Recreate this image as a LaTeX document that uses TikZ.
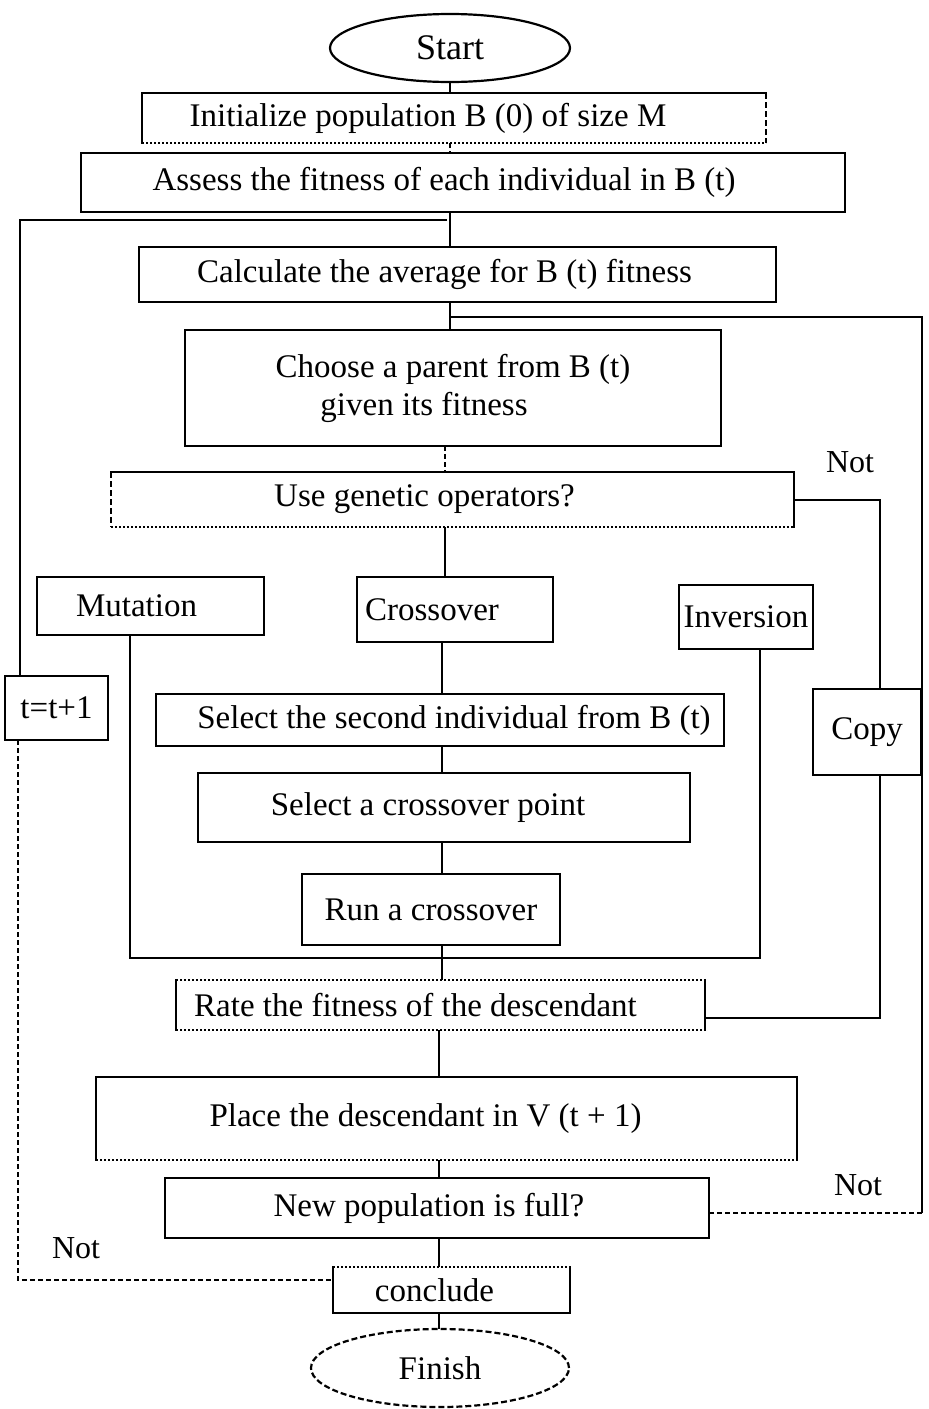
\documentclass[tikz,border=0pt]{standalone}
\usepackage{fontspec}
\setmainfont{Liberation Serif}
\usetikzlibrary{shapes.geometric}
% shift a one-line label sideways inside its box
\newcommand{\padright}[2]{\hbox{#2\kern#1pt}}
\newcommand{\padleft}[2]{\hbox{\kern#1pt#2}}

\begin{document}
\begin{tikzpicture}[x=1pt,y=-1pt,
  every node/.style={font=\fontsize{33}{38}\selectfont, inner sep=0pt, outer sep=0pt},
  box/.style={draw, rectangle, line width=2.8pt},
  bare/.style={rectangle},
  oval/.style={draw, ellipse, line width=2.2pt},
  link/.style={line width=2.4pt},
  faint/.style={line width=1.5pt, dash pattern=on 5pt off 3pt},
  side/.style={line width=2.8pt, line cap=rect},
  thinside/.style={line width=1.8pt, line cap=rect},
  dashside/.style={line width=1.7pt, dash pattern=on 6pt off 3pt},
  dotside/.style={line width=1.8pt, dash pattern=on 2pt off 2pt},
  lbl/.style={font=\fontsize{32}{36}\selectfont}
]
\useasboundingbox (0,0) rectangle (929,1409);

% terminals
\node[oval, minimum width=240, minimum height=68] (start) at (450,48) {\fontsize{36}{40}\selectfont Start};
\node[oval, dash pattern=on 6pt off 3pt, minimum width=258, minimum height=78] (finish) at (440,1368) {Finish};

% main column
\node[bare, minimum width=624, minimum height=50] (init) at (454,118) {\padright{52}{Initialize population B (0) of size M}};
\node[box, minimum width=764, minimum height=59] (assess) at (463,182.5) {\padright{38}{Assess the fitness of each individual in B (t)}};
\node[box, minimum width=637, minimum height=55] (calc) at (457.5,274.5) {\padright{26}{Calculate the average for B (t) fitness}};
\node[box, minimum width=536, minimum height=116, align=center] (choose) at (453,388) {Choose a parent from B (t)\\\padright{58}{given its fitness}};
\node[bare, minimum width=683, minimum height=55] (usegen) at (452.5,499.5) {\padright{56}{Use genetic operators?}};

% operators
\node[box, minimum width=227, minimum height=58] (mutation) at (150.5,606) {\padright{28}{Mutation}};
\node[box, minimum width=196, minimum height=65] (crossover) at (455,609.5) {\padright{46}{Crossover}};
\node[box, minimum width=134, minimum height=64] (inversion) at (746,617) {Inversion};
\node[box, minimum width=103, minimum height=64] (tinc) at (56.5,708) {t=t+1};
\node[box, minimum width=108, minimum height=86] (copy) at (867,732) {Copy};

% crossover steps
\node[box, minimum width=568, minimum height=52] (second) at (440,720) {\padleft{28}{Select the second individual from B (t)}};
\node[box, minimum width=492, minimum height=69] (point) at (444,807.5) {\padright{32}{Select a crossover point}};
\node[box, minimum width=258, minimum height=71] (run) at (431,909.5) {Run a crossover};

% evaluation and replacement
\node[bare, minimum width=529, minimum height=50] (rate) at (440.5,1005) {\padright{50}{Rate the fitness of the descendant}};
\node[bare, minimum width=701, minimum height=83] (place) at (446.5,1118.5) {\padright{42}{Place the descendant in V (t + 1)}};
\node[box, minimum width=544, minimum height=60] (newpop) at (437,1208) {\padright{16}{New population is full?}};
\node[bare, minimum width=237, minimum height=46] (conclude) at (451.5,1290) {\padright{34}{conclude}};

% branch labels
\node[lbl] (notA) at (850,462) {Not};
\node[lbl] (notB) at (858,1185) {Not};
\node[lbl] (notC) at (76,1248) {Not};

% borders with mixed line styles
\draw[thinside] (init.south west) -- (init.north west) -- (init.north east);
\draw[dashside] (init.north east) -- (init.south east);
\draw[dotside] (init.south west) -- (init.south east);

\draw[side] (usegen.north west) -- (usegen.north east) -- (usegen.south east);
\draw[dashside] (usegen.north west) -- (usegen.south west);
\draw[dotside] (usegen.south west) -- (usegen.south east);

\draw[side] (rate.north west) -- (rate.south west);
\draw[side] (rate.north east) -- (rate.south east);
\draw[dotside] (rate.north west) -- (rate.north east);
\draw[dotside] (rate.south west) -- (rate.south east);

\draw[side] (place.south west) -- (place.north west) -- (place.north east) -- (place.south east);
\draw[dotside] (place.south west) -- (place.south east);

\draw[side] (conclude.north west) -- (conclude.south west) -- (conclude.south east) -- (conclude.north east);
\draw[dotside] (conclude.north west) -- (conclude.north east);

% routing points
\coordinate (spA) at (450,0);
\coordinate (spB) at (445,0);
\coordinate (spC) at (442,0);
\coordinate (spD) at (439,0);
\coordinate (jl) at (447,220);
\coordinate (lt) at (20,220);
\coordinate (lb) at (18,1280);
\coordinate (jr) at (450,317);
\coordinate (rt) at (922,317);
\coordinate (rb) at (922,1213);
\coordinate (nr) at (880,500);
\coordinate (cb) at (880,1018);
\coordinate (ml) at (130,958);
\coordinate (ir) at (760,958);

% main flow
\draw[link] (start.south -| spA) -- (init.north -| spA);
\draw[faint] (init.south -| spA) -- (assess.north -| spA);
\draw[link] (assess.south -| spA) -- (calc.north -| spA);
\draw[link] (calc.south -| spA) -- (choose.north -| spA);
\draw[faint] (choose.south -| spB) -- (usegen.north -| spB);
\draw[link] (usegen.south -| spB) -- (crossover.north -| spB);
\draw[link] (crossover.south -| spC) -- (second.north -| spC);
\draw[link] (second.south -| spC) -- (point.north -| spC);
\draw[link] (point.south -| spC) -- (run.north -| spC);
\draw[link] (run.south -| spC) -- (rate.north -| spC);
\draw[link] (rate.south -| spD) -- (place.north -| spD);
\draw[link] (place.south -| spD) -- (newpop.north -| spD);
\draw[link] (newpop.south -| spD) -- (conclude.north -| spD);
\draw[link] (conclude.south -| spD) -- (finish.north -| spD);

% mutation and inversion merge
\draw[link] (mutation.south -| ml) -- (ml) -- (ir) -- (inversion.south -| ir);

% copy branch
\draw[link] (usegen.east |- nr) -- (nr) -- (copy.north -| nr);
\draw[link] (copy.south -| nr) -- (cb) -- (rate.east |- cb);

% loop back while the new population is not full
\draw[link] (jr) -- (rt) -- (rb);
\draw[faint] (rb) -- (newpop.east |- rb);

% next generation loop
\draw[link] (jl) -- (lt) -- (tinc.north -| lt);
\draw[faint] (tinc.south -| lb) -- (lb) -- (conclude.west |- lb);
\end{tikzpicture}
\end{document}
